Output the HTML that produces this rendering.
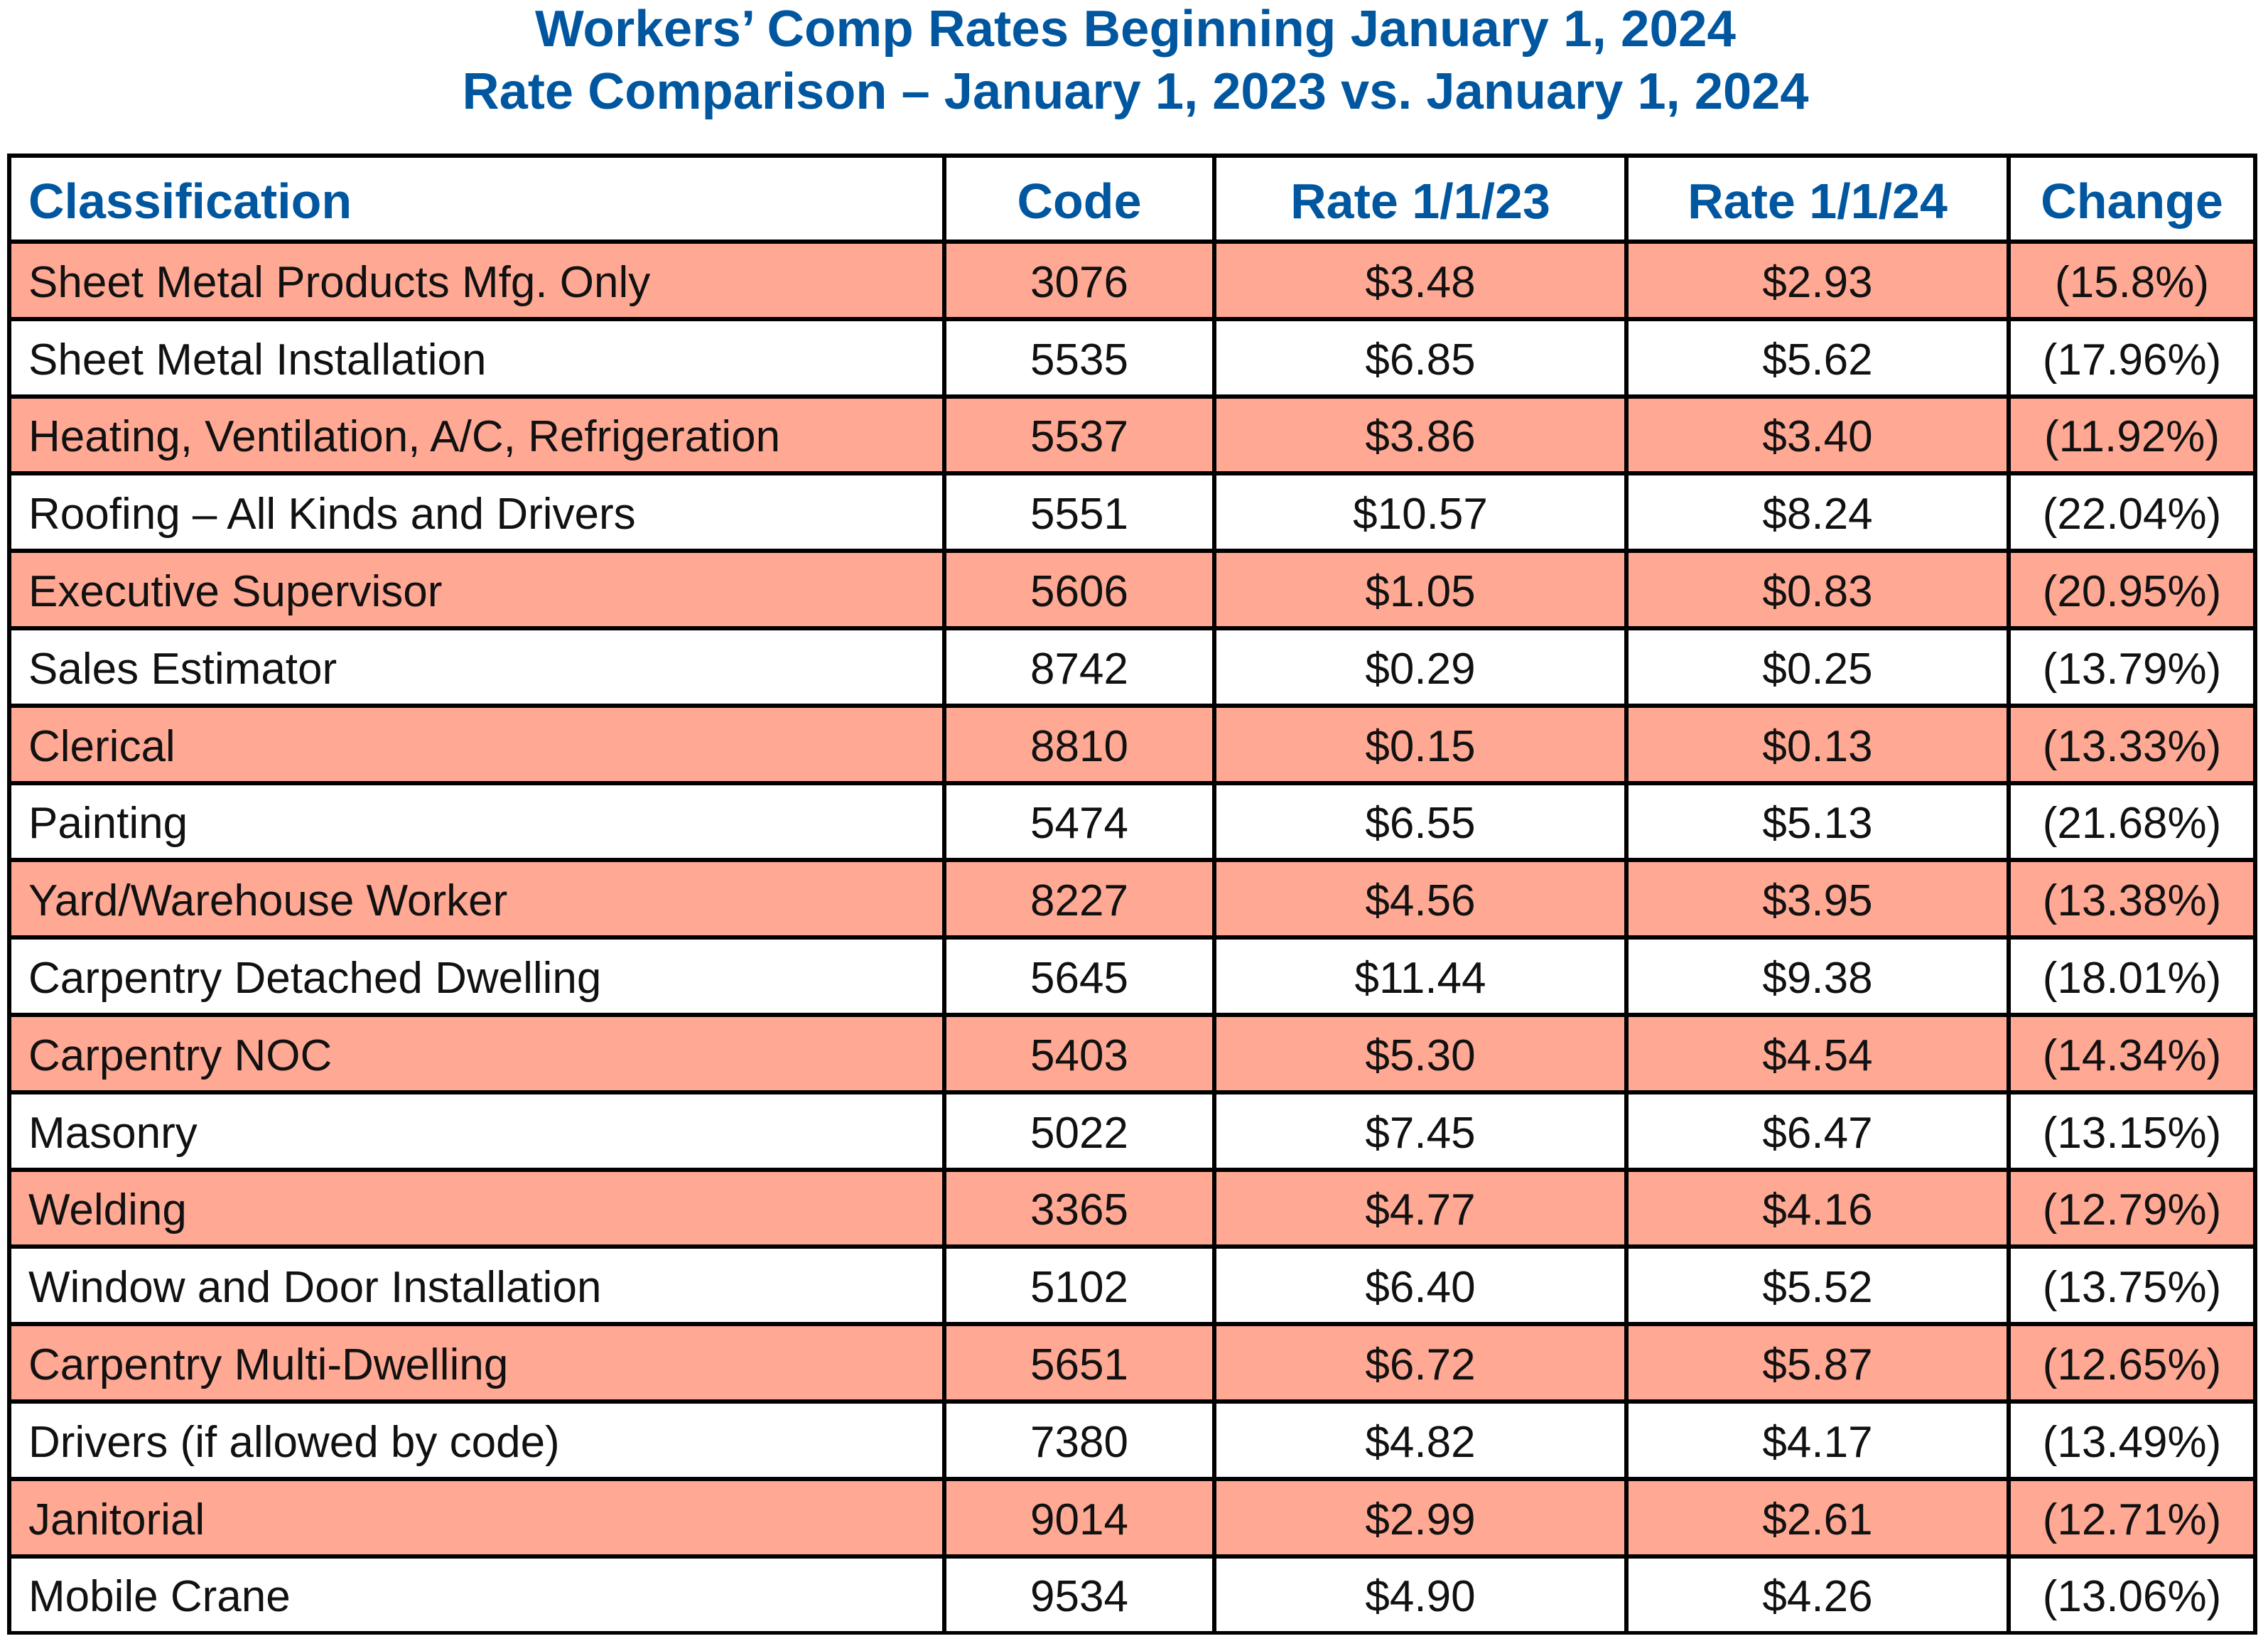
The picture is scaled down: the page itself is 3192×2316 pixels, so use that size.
<!DOCTYPE html>
<html><head><meta charset="utf-8">
<style>
html,body{margin:0;padding:0;background:#fff;}
body{width:3192px;height:2316px;position:relative;overflow:hidden;font-family:"Liberation Sans",sans-serif;}
#titles{position:absolute;left:0;top:0;}
#tbl{position:absolute;left:10px;top:216px;width:3167px;height:2084px;box-sizing:border-box;border:6px solid #000;background:#000;}
.row{position:absolute;left:0;width:3155px;display:flex;}
.cell{position:absolute;top:0;bottom:0;display:flex;align-items:center;justify-content:center;font-size:62px;color:#111;box-sizing:border-box;padding-top:6px;}
.cell.first{justify-content:flex-start;padding-left:24px;}
.hdr .cell{font-weight:bold;color:#0057a0;font-size:70px;}
</style></head><body>
<svg id="titles" width="3192" height="210">
<text x="1598" y="65" text-anchor="middle" font-family="Liberation Sans" font-weight="bold" font-size="72" fill="#0057a0" textLength="1690" lengthAdjust="spacingAndGlyphs">Workers’ Comp Rates Beginning January 1, 2024</text>
<text x="1598" y="153" text-anchor="middle" font-family="Liberation Sans" font-weight="bold" font-size="72" fill="#0057a0" textLength="1895" lengthAdjust="spacingAndGlyphs">Rate Comparison – January 1, 2023 vs. January 1, 2024</text>
</svg>
<div id="tbl"></div>
<script>
const headers=["Classification","Code","Rate 1/1/23","Rate 1/1/24","Change"];
const classes=["Sheet Metal Products Mfg. Only","Sheet Metal Installation","Heating, Ventilation, A/C, Refrigeration","Roofing – All Kinds and Drivers","Executive Supervisor","Sales Estimator","Clerical","Painting","Yard/Warehouse Worker","Carpentry Detached Dwelling","Carpentry NOC","Masonry","Welding","Window and Door Installation","Carpentry Multi-Dwelling","Drivers (if allowed by code)","Janitorial","Mobile Crane"];
const codes=["3076","5535","5537","5551","5606","8742","8810","5474","8227","5645","5403","5022","3365","5102","5651","7380","9014","9534"];
const rate23=["$3.48","$6.85","$3.86","$10.57","$1.05","$0.29","$0.15","$6.55","$4.56","$11.44","$5.30","$7.45","$4.77","$6.40","$6.72","$4.82","$2.99","$4.90"];
const rate24=["$2.93","$5.62","$3.40","$8.24","$0.83","$0.25","$0.13","$5.13","$3.95","$9.38","$4.54","$6.47","$4.16","$5.52","$5.87","$4.17","$2.61","$4.26"];
const changes=["(15.8%)","(17.96%)","(11.92%)","(22.04%)","(20.95%)","(13.79%)","(13.33%)","(21.68%)","(13.38%)","(18.01%)","(14.34%)","(13.15%)","(12.79%)","(13.75%)","(12.65%)","(13.49%)","(12.71%)","(13.06%)"];
// column edges (inner table coords)
const edges=[0,1310,1690,2270,2808,3155];
const hdrH=115, rowH=108.8, gap=6;
const tbl=document.getElementById('tbl');
function makeRow(vals,top,h,bg,isHdr,idx){
  const r=document.createElement('div');
  r.className='row'+(isHdr?' hdr':'');
  
  
  r.style.top=top+'px';r.style.height=h+'px';
  vals.forEach((v,i)=>{
    const c=document.createElement('div');
    c.className='cell'+(i===0?' first':'');
    
    
    const l=edges[i]+(i>0?gap:0), rr=edges[i+1];
    c.style.left=l+'px';c.style.width=(rr-l)+'px';c.style.background=bg;
    c.textContent=v;
    r.appendChild(c);
  });
  tbl.appendChild(r);
}
makeRow(headers,0,hdrH,'#fff',true);
classes.forEach((c,i)=>{
  const top=hdrH+gap+i*rowH;
  makeRow([c,codes[i],rate23[i],rate24[i],changes[i]],top,rowH-gap,i%2===0?'#ffa893':'#fff',false,i);
});
</script>
</body></html>
